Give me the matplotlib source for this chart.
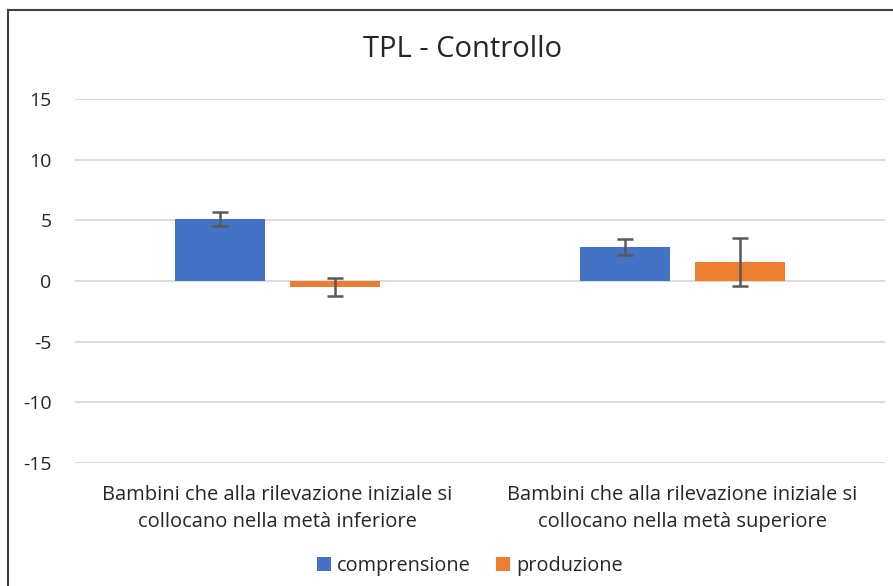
import matplotlib
matplotlib.use("Agg")
import matplotlib.pyplot as plt
from matplotlib.lines import Line2D
import numpy as np

plt.rcParams['font.family'] = ['Open Sans', 'DejaVu Sans']
plt.rcParams['axes.unicode_minus'] = False

categories = ["Bambini che alla rilevazione iniziale si\ncollocano nella metà inferiore",
              "Bambini che alla rilevazione iniziale si\ncollocano nella metà superiore"]
series = ["comprensione", "produzione"]
comprensione = [5.1, 2.8]
comprensione_err = [0.6, 0.65]
produzione = [-0.5, 1.55]
produzione_err = [0.75, 2.0]
colors = ["#4472C4", "#ED7D31"]

fig = plt.figure(figsize=(8.93, 5.86), dpi=100)
ax = fig.add_axes([0.084, 0.21, 0.907, 0.621])

x = np.arange(len(categories))
w = 0.222
off = (w + 0.062) / 2
ax.bar(x - off, comprensione, w, color=colors[0], label=series[0], zorder=3)
ax.bar(x + off, produzione, w, color=colors[1], label=series[1], zorder=3)
ax.errorbar(x - off, comprensione, yerr=comprensione_err, fmt='none',
            ecolor="#595959", elinewidth=1.8, capsize=6, capthick=1.8, zorder=4)
ax.errorbar(x + off, produzione, yerr=produzione_err, fmt='none',
            ecolor="#595959", elinewidth=1.8, capsize=6, capthick=1.8, zorder=4)

ax.set_xlim(-0.5, 1.5)
ax.set_ylim(-15, 15)
ax.set_yticks(range(-15, 16, 5))
ax.yaxis.grid(True, color="#D9D9D9", linewidth=1.3, zorder=0)
ax.set_axisbelow(True)
for s in ax.spines.values():
    s.set_visible(False)
ax.tick_params(axis='both', length=0, labelsize=14, colors="#262626")
ax.tick_params(axis='y', pad=17)
ax.set_xticks(x)
ax.set_xticklabels(categories, fontsize=14.5, linespacing=1.45)
ax.tick_params(axis='x', pad=16)

fig.suptitle("TPL - Controllo", x=0.518, y=0.94, fontsize=21, color="#262626")
fig.legend(loc="lower center", bbox_to_anchor=(0.526, -0.013), ncol=2, frameon=False,
           fontsize=14.3, handlelength=0.7, handleheight=0.7, handletextpad=0.3,
           columnspacing=1.3, labelcolor="#262626")

# chart frame, cut by the image edge
fig.add_artist(Line2D([8 / 893, 1], [1 - 10 / 586, 1 - 10 / 586], color="#404040", linewidth=1.5))
fig.add_artist(Line2D([8 / 893, 8 / 893], [0, 1 - 10 / 586], color="#404040", linewidth=1.5))

fig.savefig("out.png", dpi=100)
